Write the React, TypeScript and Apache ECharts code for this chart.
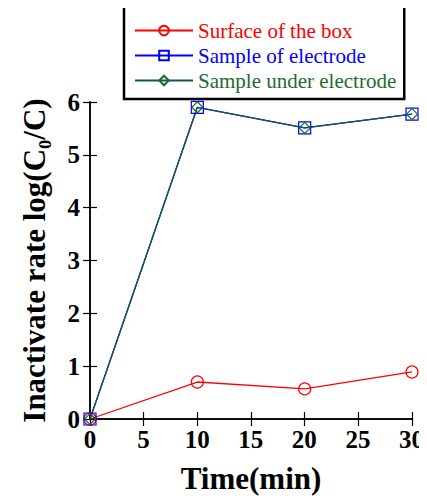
import React, { useEffect, useRef } from "react";
import * as echarts from "echarts";

const times = [0, 10, 20, 30];
const surfaceBox = [0, 0.7, 0.57, 0.89];
const sampleOf = [0, 5.9, 5.51, 5.77];
const sampleUnder = [0, 5.9, 5.51, 5.77];
const seriesNames = ["Surface of the box", "Sample of electrode", "Sample under electrode"];
const seriesColors = ["#ff0000", "#0000ff", "#1e6b2e"];
const xTicks = [0, 5, 10, 15, 20, 25, 30];
const yTicks = [0, 1, 2, 3, 4, 5, 6];
const xTitle = "Time(min)";
const yTitle = "Inactivate rate log(C\u2080/C)";

const F = "Liberation Serif";

export default function App() {
  const ref = useRef<HTMLDivElement>(null);
  useEffect(() => {
    const chart = echarts.init(ref.current!, null, { renderer: "svg" });
    const pairs = (ys: number[]) => times.map((t, i) => [t, ys[i]]);
    const mk = (name: string, ys: number[], color: string, symbol: string, size: number, lineColor: string) => ({
      name,
      type: "line",
      data: pairs(ys),
      symbol,
      symbolSize: size,
      itemStyle: { color: "transparent", borderColor: color, borderWidth: 1.2 },
      lineStyle: { color: lineColor, width: 1.3 },
      color,
    });
    chart.setOption({
      animation: false,
      grid: { left: 90, right: 15, top: 102, bottom: 73 },
      legend: {
        left: 124,
        top: 6,
        width: 286,
        orient: "vertical",
        padding: [14, 8, 8, 10],
        itemGap: 4,
        itemWidth: 58,
        itemHeight: 12,
        borderColor: "#000",
        borderWidth: 2.5,
        backgroundColor: "#fff",
        data: seriesNames.map((n, i) => ({
          name: n,
          textStyle: { color: seriesColors[i], fontFamily: F, fontSize: 21 },
        })),
        textStyle: { fontSize: 21, fontFamily: F },
      },
      xAxis: [
        {
          type: "value",
          min: 0,
          max: 30,
          interval: 5,
          name: xTitle,
          nameLocation: "middle",
          nameGap: 44,
          nameTextStyle: { fontFamily: F, fontSize: 31, fontWeight: "bold", color: "#000" },
          axisLine: { lineStyle: { color: "#000", width: 1.5 } },
          axisTick: { inside: true, length: 7, lineStyle: { color: "#000", width: 1.2 } },
          splitLine: { show: false },
          axisLabel: { fontSize: 25, color: "#000", fontFamily: F, fontWeight: "bold", margin: 8 },
        },
        {
          type: "value",
          position: "top",
          min: 0,
          max: 30,
          interval: 5,
          axisLine: { lineStyle: { color: "#000", width: 1.5 } },
          axisTick: { inside: true, length: 7, lineStyle: { color: "#000", width: 1.2 } },
          splitLine: { show: false },
          axisLabel: { show: false },
        },
      ],
      yAxis: [
        {
          type: "value",
          min: 0,
          max: 6,
          interval: 1,
          name: yTitle,
          nameLocation: "middle",
          nameGap: 40,
          nameTextStyle: { fontFamily: F, fontSize: 31, fontWeight: "bold", color: "#000" },
          axisLine: { show: true, lineStyle: { color: "#000", width: 1.5 } },
          axisTick: { show: true, inside: true, length: 7, lineStyle: { color: "#000", width: 1.2 } },
          splitLine: { show: false },
          axisLabel: { fontSize: 25, color: "#000", fontFamily: F, fontWeight: "bold", margin: 10 },
        },
        {
          type: "value",
          position: "right",
          min: 0,
          max: 6,
          interval: 1,
          axisLine: { show: true, lineStyle: { color: "#000", width: 1.5 } },
          axisTick: { show: true, inside: true, length: 7, lineStyle: { color: "#000", width: 1.2 } },
          splitLine: { show: false },
          axisLabel: { show: false },
        },
      ],
      series: [
        mk(seriesNames[0], surfaceBox, seriesColors[0], "circle", 12, "#ff0000"),
        mk(seriesNames[1], sampleOf, seriesColors[1], "rect", 12, "#0000ff"),
        mk(seriesNames[2], sampleUnder, seriesColors[2], "diamond", 11, "#14574a"),
      ],
    });
    try {
      const g: any[] = [];
      xTicks.forEach((v) => {
        const p = chart.convertToPixel({ gridIndex: 0 }, [v, 0]) as number[];
        if (!p || isNaN(p[0]) || isNaN(p[1])) throw new Error("no px");
        g.push({
          type: "text",
          x: p[0],
          y: p[1] + 8,
          silent: true,
          style: {
            text: String(v),
            fontFamily: F,
            fontSize: 25,
            fontWeight: "bold",
            fill: "#000",
            align: "center",
            verticalAlign: "top",
          },
        });
      });
      yTicks.forEach((v) => {
        const p = chart.convertToPixel({ gridIndex: 0 }, [0, v]) as number[];
        if (!p || isNaN(p[0]) || isNaN(p[1])) throw new Error("no px");
        g.push({
          type: "text",
          x: p[0] - 10,
          y: p[1],
          silent: true,
          style: {
            text: String(v),
            fontFamily: F,
            fontSize: 25,
            fontWeight: "bold",
            fill: "#000",
            align: "right",
            verticalAlign: "middle",
          },
        });
      });
      chart.setOption({
        xAxis: [{ axisLabel: { show: false } }, {}],
        yAxis: [{ axisLabel: { show: false } }, {}],
        graphic: g,
      });
    } catch (e) {
      // keep the axis labels drawn by the axes
    }
    return () => chart.dispose();
  }, []);
  return <div ref={ref} style={{ width: 427, height: 499, marginLeft: -8, marginTop: -8 }} />;
}
